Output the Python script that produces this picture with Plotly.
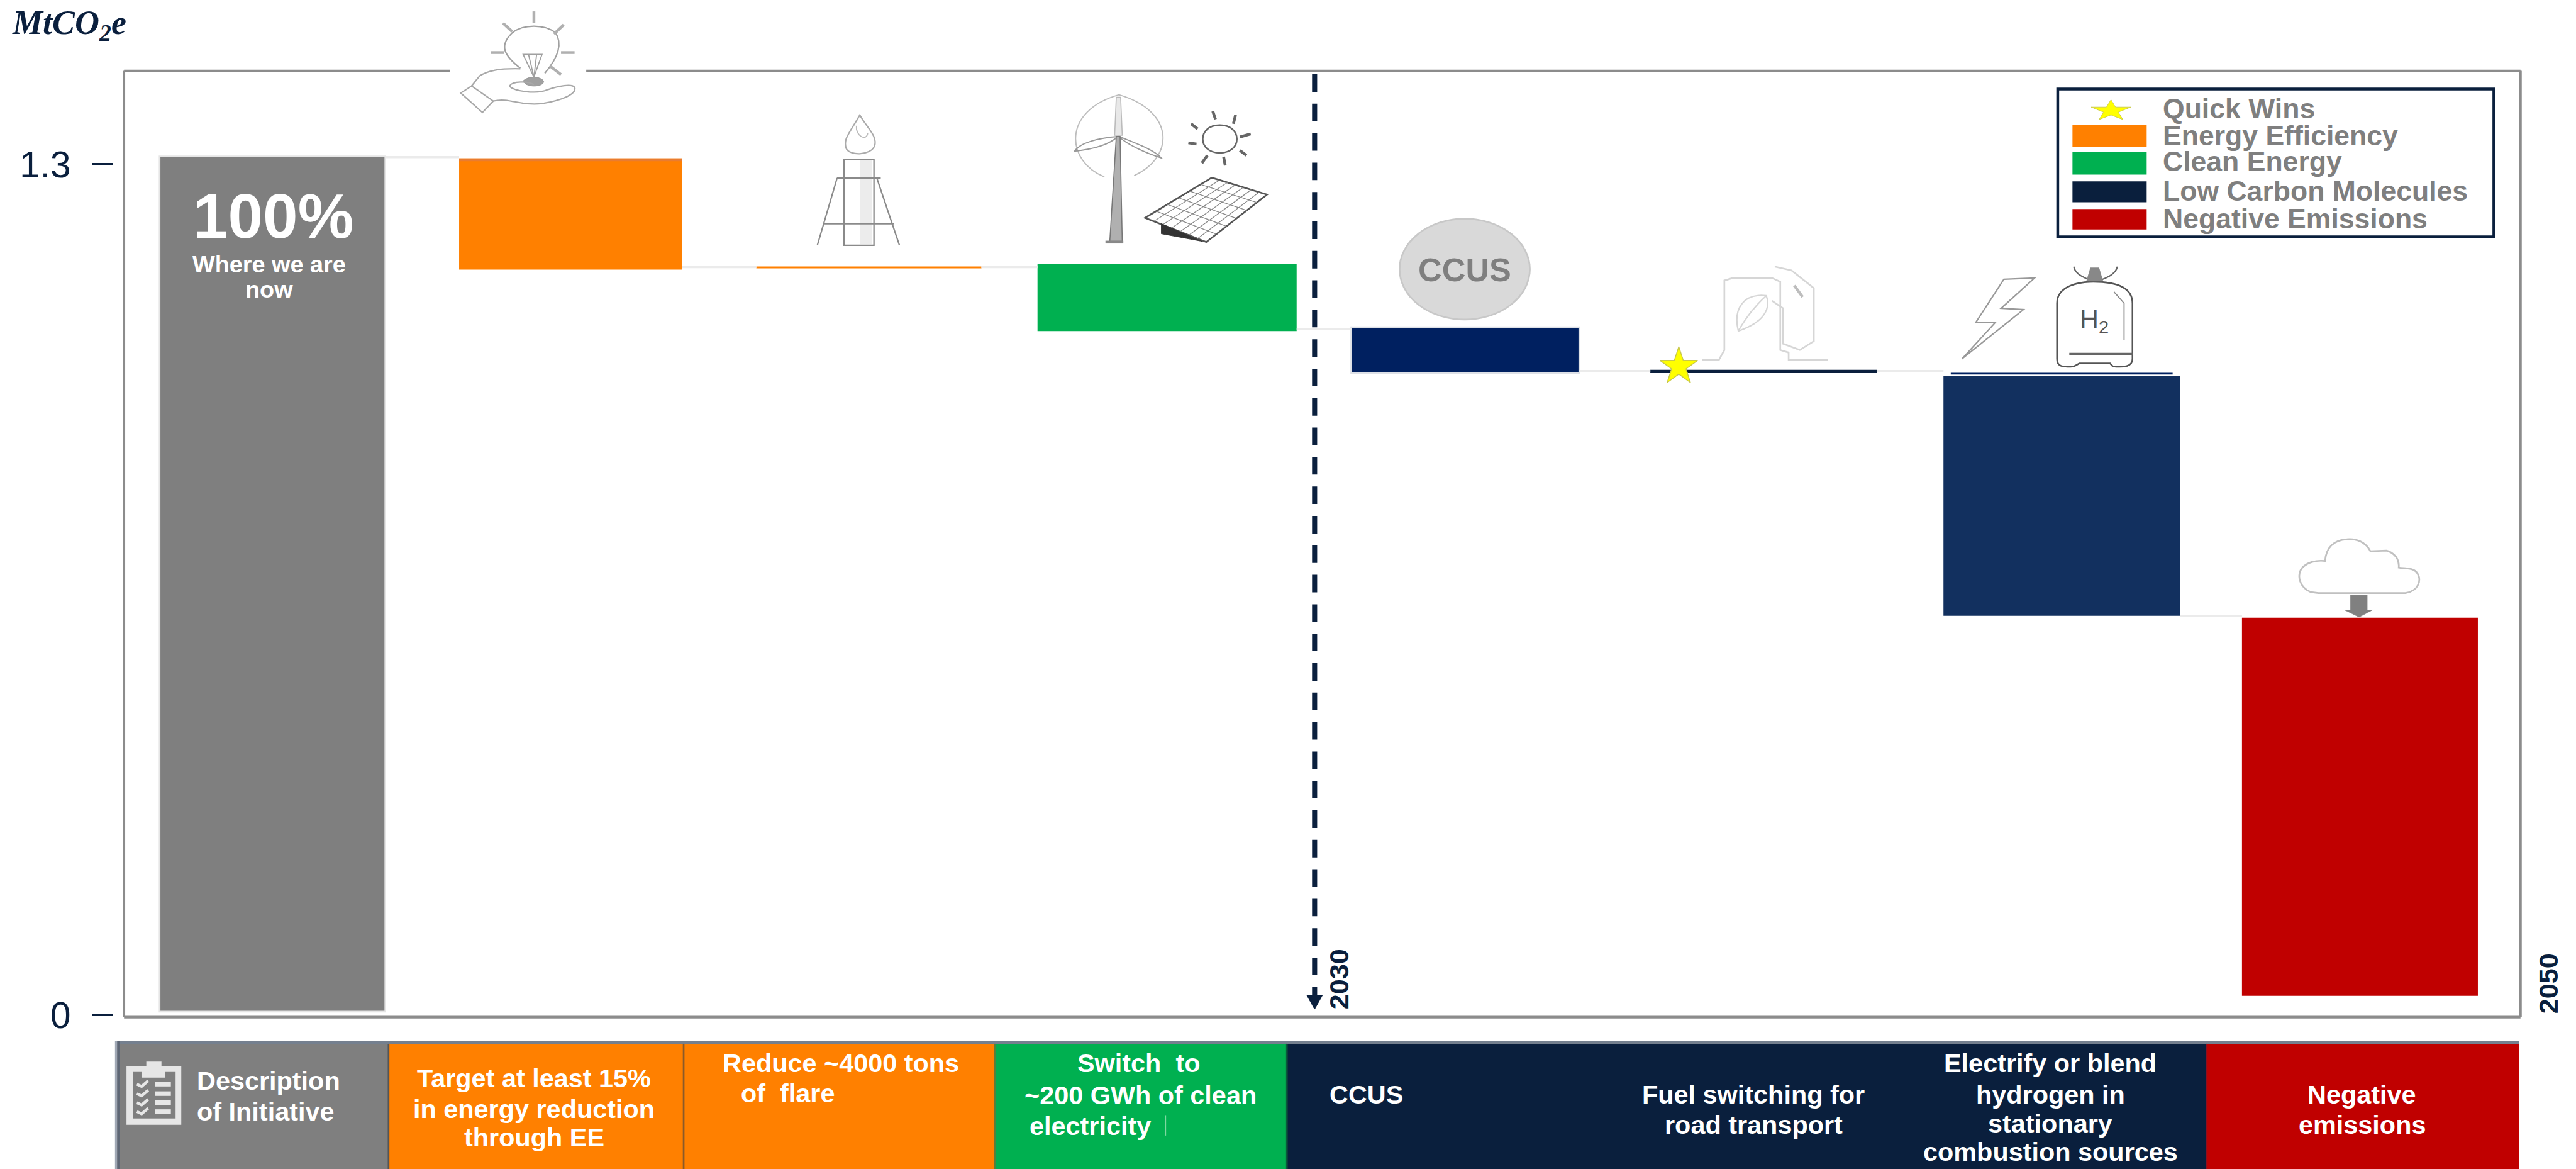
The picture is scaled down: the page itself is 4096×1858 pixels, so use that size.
import re
import plotly.graph_objects as go

# ---------- data ----------
categories = ["Where we are now", "Energy efficiency", "Flare reduction", "Clean electricity",
              "CCUS", "Fuel switching", "Electrify or blend hydrogen", "Negative emissions"]
bar_bottoms = [0.005, 1.139, 1.141, 1.045, 0.981, 0.981, 0.610, 0.029]
bar_tops = [1.312, 1.309, 1.144, 1.148, 1.051, 0.986, 0.976, 0.607]
connector_levels = [1.311, 1.143, 1.143, 1.048, 0.984, 0.984, 0.610]
hydrogen_rule_level = 0.980
orange_cap_level = 1.307
star_level = 0.991
y_ticks = [0, 1.3]
y_tick_labels = ["0", "1.3"]
legend_labels = ["Quick Wins", "Energy Efficiency", "Clean Energy", "Low Carbon Molecules", "Negative Emissions"]
year_labels = ["2030", "2050"]
strip_labels = [
    ["Description", "of Initiative"],
    ["Target at least 15%", "in energy reduction", "through EE"],
    ["Reduce ~4000 tons", "of  flare"],
    ["Switch  to", "~200 GWh of clean", "electricity"],
    ["CCUS"],
    ["Fuel switching for", "road transport"],
    ["Electrify or blend", "hydrogen in", "stationary", "combustion sources"],
    ["Negative", "emissions"],
]

# ---------- styling / layout (reference pixels, scaled by S) ----------
W, H, S = 4548, 2063, 0.9
GREY, ORANGE, GREEN, NAVY, DARK, BLUE, RED = "#7F7F7F", "#FF8000", "#00B050", "#002060", "#0A1F3D", "#12305F", "#C00000"
bar_colors = [GREY, ORANGE, ORANGE, GREEN, NAVY, DARK, BLUE, RED]
bar_edges = ["#E6E6E6", ORANGE, ORANGE, GREEN, "#DDE0E6", DARK, BLUE, RED]
bar_edge_w = [3, 0, 0, 0, 3, 0, 0, 0]
bar_w = [0.757, 0.748, 0.755, 0.869, 0.765, 0.759, 0.793, 0.791]
FL, FR, FT, FB = 219, 4450, 125, 1795
X0, DX = 481, 526.5
Y0, YS = 1791, 1.3 / 1501
SANS = "Liberation Sans"


def fx(v):
    return v / W


def fy(v):
    return 1 - v / H


def svg(path, ox=0.0, sx=1.0, oy=0.0, sy=1.0):
    idx = {"n": 0}

    def rep(m):
        v = float(m.group(0))
        i = idx["n"]
        idx["n"] += 1
        return f"{fx(ox + sx * v):.6f}" if i % 2 == 0 else f"{fy(oy + sy * v):.6f}"

    return re.sub(r"-?\d+(?:\.\d+)?", rep, path)


fig = go.Figure()
xs = list(range(len(categories)))
fig.add_trace(go.Bar(
    x=xs, y=[t - b for t, b in zip(bar_tops, bar_bottoms)], base=bar_bottoms, width=bar_w,
    hovertext=categories,
    marker=dict(color=bar_colors, line=dict(color=bar_edges, width=[v * S for v in bar_edge_w])),
    showlegend=False))

# darker cap on the first orange bar
fig.add_trace(go.Scatter(
    x=[1 - bar_w[1] / 2, 1 + bar_w[1] / 2], y=[orange_cap_level] * 2, mode="lines",
    line=dict(color="#E97C30", width=5 * S), showlegend=False, hoverinfo="skip"))
# connectors between successive bars
for i, lev in enumerate(connector_levels):
    fig.add_trace(go.Scatter(
        x=[i + bar_w[i] / 2, i + 1 - bar_w[i + 1] / 2], y=[lev, lev], mode="lines",
        line=dict(color="#EBEBEB", width=4 * S), showlegend=False, hoverinfo="skip"))
# dark rule on top of the hydrogen bar
fig.add_trace(go.Scatter(
    x=[6 - 0.372, 6 + 0.372], y=[hydrogen_rule_level] * 2, mode="lines",
    line=dict(color=NAVY, width=3 * S), showlegend=False, hoverinfo="skip"))
# quick-win star
fig.add_trace(go.Scatter(
    x=[5 - 0.284], y=[star_level], mode="markers", showlegend=False, hoverinfo="skip",
    marker=dict(symbol="star", size=50 * S, color="#FFFF00", line=dict(color="#C9C94A", width=1.5))))

shapes, annos = [], []


def line_shape(x0, y0, x1, y1, color, width, layer="above"):
    shapes.append(dict(type="line", xref="paper", yref="paper", x0=fx(x0), y0=fy(y0), x1=fx(x1), y1=fy(y1),
                       line=dict(color=color, width=width * S), layer=layer))


def rect(x0, y0, x1, y1, fill, line=None, lw=0, layer="above"):
    shapes.append(dict(type="rect", xref="paper", yref="paper", x0=fx(x0), y0=fy(y0), x1=fx(x1), y1=fy(y1),
                       fillcolor=fill, line=dict(color=line or fill, width=lw * S), layer=layer))


def path(d, color="#A6A6A6", width=2.5, fill=None, z=None, layer="above"):
    ox, sx, oy, sy = z or (0, 1, 0, 1)
    s = dict(type="path", xref="paper", yref="paper", path=svg(d, ox, sx, oy, sy),
             line=dict(color=color, width=width * S), layer=layer)
    if fill:
        s["fillcolor"] = fill
    shapes.append(s)


def text(t, x, y, size, color="white", anchor="center", bold=True, family=SANS, angle=0):
    annos.append(dict(text=f"<b>{t}</b>" if bold else t, xref="paper", yref="paper", x=fx(x), y=fy(y),
                      xanchor=anchor, yanchor="middle", showarrow=False, textangle=angle,
                      font=dict(family=family, size=size * S, color=color)))


# frame with a gap for the bulb icon
FC = "#8C8C8C"
line_shape(FL, FT, 794, FT, FC, 4, "below")
line_shape(1035, FT, FR, FT, FC, 4, "below")
line_shape(FL, FT, FL, FB, FC, 4, "below")
line_shape(FR, FT, FR, FB, FC, 4.5, "below")
line_shape(FL, FB, FR, FB, FC, 4.5, "below")

# 2030 divider
line_shape(2321, 131, 2321, 1760, DARK, 9)
shapes[-1]["line"]["dash"] = f"{31 * S}px,{21 * S}px"
path("M2307 1756 L2335 1756 L2321 1781 Z", color=DARK, width=1, fill=DARK)
text(year_labels[0], 2364, 1728, 48, DARK, angle=-90)
text(year_labels[1], 4500, 1736, 48, DARK, angle=-90)

# units
annos.append(dict(text="<b><i>MtCO<sub>2</sub>e</i></b>", xref="paper", yref="paper", x=fx(19), y=fy(44),
                  xanchor="left", yanchor="middle", showarrow=False,
                  font=dict(family="Liberation Serif", size=60 * S, color=DARK)))

# start-bar text
text("100%", 483, 381, 111)
text("Where we are", 475, 466, 42)
text("now", 475, 511, 42)

# ---- icons ----
Z1 = (0, 0.957, 0, 0.446)
Z2 = (1500, 0.957, 0, 0.446)
Z3 = (3000, 0.987, 0, 0.446)
Z6 = (3950, 1 / 3, 900, 1 / 3)
ZC = (190, 1 / 3, 1830, 1 / 3)

# bulb in hand
path("M960 270 C930 220 920 180 945 130 C965 95 1005 95 1025 130 C1040 180 1025 240 1005 290", "#A0A0A0", 2.5, z=Z1)
path("M965 215 L1000 215 L985 305 Z M975 215 L985 305 M990 215 L985 305", "#A0A0A0", 2, z=Z1)
for d in ["M985 45 L985 90", "M928 92 L945 125", "M1040 98 L1022 135", "M905 208 L930 208",
          "M1035 208 L1060 208", "M1015 262 L1035 295"]:
    path(d, "#B0B0B0", 5, z=Z1)
path("M965 320 C975 300 995 300 1003 320 C1005 345 970 350 965 320 Z", "#909090", 1, "#A0A0A0", z=Z1)
path("M960 272 C920 270 900 280 885 300 L870 340 L850 368 L890 445 L910 400 C940 385 960 420 1000 410 "
     "C1040 395 1065 370 1060 345 C1055 330 1030 340 1010 355 C990 375 945 360 940 340 C945 320 975 320 985 335",
     "#A8A8A8", 2.5, z=Z1)
path("M870 340 L910 400", "#A8A8A8", 2.5, z=Z1)

# flare stack
path("M1518 203 C1500 235 1488 245 1494 262 C1500 275 1536 275 1544 258 C1550 240 1530 225 1518 203 Z", "#AAAAAA", 2.5)
path("M1512 222 C1510 240 1530 250 1532 235", "#BBBBBB", 2)
rect(1518, 283, 1540, 431, "#ECECEC")
path("M1490 281 L1543 281 L1543 433 L1490 433 Z", "#8A8A8A", 2.5)
path("M1443 433 L1478 314 M1548 314 L1588 433 M1478 314 L1555 314 M1455 395 L1578 395", "#8A8A8A", 2.5)

# wind turbine
path("M470 700 C400 640 390 440 497 375 C600 440 600 620 525 695", "#BDBDBD", 2.2, z=Z2)
path("M492 385 L500 385 L503 535 L489 535 Z", "#BBBBBB", 1.8, "#E8E8E8", z=Z2)
path("M495 540 C460 545 425 565 415 598 C450 590 480 570 495 540 Z", "#999999", 2.2, z=Z2)
path("M497 540 C520 560 560 590 575 625 C545 605 510 570 497 540 Z", "#999999", 2.2, z=Z2)
path("M492 540 L499 540 L503 955 L480 955 Z", "#777777", 1.8, "#B0B0B0", z=Z2)
path("M472 958 L505 958", "#888888", 5, z=Z2)

# sun
path("M683 495 C725 495 725 605 683 605 C641 605 641 495 683 495 Z", "#666666", 2.8, z=Z2)
for d in ["M670 440 L675 472", "M712 455 L708 490", "M630 490 L642 510", "M740 530 L720 542", "M625 565 L640 570",
          "M720 595 L732 615", "M690 620 L693 655", "M660 615 L650 645"]:
    path(d, "#666666", 5, z=Z2)

# solar panel (grid interpolated across the panel outline)
A, B, C, D = (668, 703), (770, 770), (658, 958), (545, 862)
path(f"M{A[0]} {A[1]} L{B[0]} {B[1]} L{C[0]} {C[1]} L{D[0]} {D[1]} Z", "#555555", 3, z=Z2)
grid = []
for k in range(1, 6):
    t = k / 6
    grid.append(f"M{A[0] + (D[0] - A[0]) * t:.1f} {A[1] + (D[1] - A[1]) * t:.1f} "
                f"L{B[0] + (C[0] - B[0]) * t:.1f} {B[1] + (C[1] - B[1]) * t:.1f}")
for k in range(1, 7):
    t = k / 7
    grid.append(f"M{A[0] + (B[0] - A[0]) * t:.1f} {A[1] + (B[1] - A[1]) * t:.1f} "
                f"L{D[0] + (C[0] - D[0]) * t:.1f} {D[1] + (C[1] - D[1]) * t:.1f}")
path(" ".join(grid), "#888888", 1.5, z=Z2)
path("M575 885 L575 925 L650 955 Z", "#333333", 1, "#333333", z=Z2)

# CCUS bubble
shapes.append(dict(type="circle", xref="paper", yref="paper", x0=fx(2471), x1=fx(2701), y0=fy(386), y1=fy(564),
                   fillcolor="#D9D9D9", line=dict(color="#C8C8C8", width=3 * S), layer="above"))
text("CCUS", 2586, 476, 58, "#7F7F7F")

# fuel pump with leaf
PUMP = "#D6D6D6"
path("M5 1425 L35 1425 L45 1385 L45 1110 L60 1100 L130 1100 L145 1115 L145 1385 L160 1395 L160 1425 L230 1425", PUMP, 3, z=Z3)
path("M135 1055 L165 1070 L205 1140 L205 1350 L180 1385 L150 1360 L150 1220 L130 1190", PUMP, 3, z=Z3)
path("M70 1310 C60 1220 80 1160 120 1170 C130 1230 110 1280 70 1310 Z M70 1310 C85 1250 100 1210 120 1170", PUMP, 2.5, z=Z3)
path("M170 1130 L185 1175", "#BDBDBD", 5, z=Z3)

# lightning + H2 cylinder
path("M600 1100 L545 1105 L495 1275 L530 1275 L470 1420 L580 1225 L540 1220 Z", "#999999", 2.5, z=Z3)
path("M640 1200 C640 1130 680 1115 705 1115 C740 1115 775 1130 775 1200 L775 1420 C775 1450 760 1455 740 1450 "
     "L735 1438 L680 1438 L670 1450 C650 1455 640 1450 640 1420 Z", "#555555", 2.8, z=Z3)
path("M670 1055 C672 1085 690 1100 700 1110 M748 1055 C745 1085 730 1100 715 1110", "#666666", 2.5, z=Z3)
path("M700 1060 L715 1060 L722 1112 L693 1112 Z", "#888888", 1, "#888888", z=Z3)
path("M662 1400 L775 1400", "#666666", 3.5, z=Z3)
path("M742 1155 L760 1200 L760 1345", "#888888", 2, z=Z3)
annos.append(dict(text="H<sub>2</sub>", xref="paper", yref="paper", x=fx(3698), y=fy(566), xanchor="center",
                  yanchor="middle", showarrow=False, font=dict(family=SANS, size=46 * S, color="#555555")))

# cloud with down arrow
path("M430 440 L890 440 C960 430 980 370 950 330 C930 305 880 310 855 305 C860 260 830 225 790 215 L705 218 "
     "C680 170 630 150 580 155 C510 160 470 200 465 270 C420 265 370 275 340 310 C315 350 330 410 390 435 Z",
     "#C0C0C0", 3, z=Z6)
path("M600 450 L688 450 L688 530 L715 530 L645 567 L570 530 L600 530 Z", "#8C8C8C", 1, "#808080", z=Z6)

# ---- legend ----
rect(3633, 157, 4403, 418, "white", DARK, 5)
legend_swatches = [None, ORANGE, GREEN, DARK, RED]
swatch_y = [None, (220, 259), (268, 308), (320, 357), (369, 405)]
text_y = [192, 239, 285, 337, 386]
for lab, col, sy_, ty in zip(legend_labels, legend_swatches, swatch_y, text_y):
    if col:
        rect(3659, sy_[0], 3790, sy_[1], col)
    text(lab, 3816, ty, 49.5, "#7F7F7F", "left")
path("M3727 176 L3735 189 L3762 189 L3740 198 L3748 211 L3727 203 L3706 211 L3714 198 L3692 189 L3719 189 Z",
     "#C9C94A", 1, "#FFFF00")

# ---- initiative strip ----
cell_x = [205, 686, 1207, 1756, 2272, 3896, 4448]
cell_col = [GREY, ORANGE, ORANGE, GREEN, DARK, RED]
for i, c in enumerate(cell_col):
    rect(cell_x[i], 1837, cell_x[i + 1], H + 2, c)
rect(205, 1837, 4448, 1842, "#75808F")
rect(203, 1837, 207, H + 2, "#A0A8B5")
rect(207, 1837, 212, H + 2, "#5D6675")
for xv, col in zip(cell_x[1:5], ["#555555", "#8A5A2A", "#5F7A3A", "#0A5A3A"]):
    line_shape(xv, 1842, xv, H + 2, col, 3)
line_shape(3896, 1842, 3896, H + 2, "#8E1020", 3)

label_pos = [
    [(345, 1907, "left"), (345, 1962, "left")],
    [(943, 1903, "center"), (943, 1958, "center"), (943, 2007, "center")],
    [(1485, 1877, "center"), (1391, 1930, "center")],
    [(2010, 1877, "center"), (2014, 1933, "center"), (1815, 1987, "left")],
    [(2345, 1932, "left")],
    [(3096, 1932, "center"), (3096, 1985, "center")],
    [(3620, 1877, "center"), (3620, 1932, "center"), (3620, 1983, "center"), (3620, 2033, "center")],
    [(4170, 1932, "center"), (4170, 1985, "center")],
]
for lines, poss in zip(strip_labels, label_pos):
    for t, (x, y, a) in zip(lines, poss):
        text(t, x, y, 46, "white", a)
line_shape(2058, 1968, 2058, 2004, "#7FD8A0", 1.5)

# checklist icon
IC = "#E6E6E6"
path("M100 155 L390 155 L390 465 L100 465 Z M135 185 L135 432 L360 432 L360 185 Z", IC, 0.1, IC, z=ZC)
path("M180 215 L180 155 L205 155 L205 130 L285 130 L285 155 L305 155 L305 215 Z", IC, 0.1, IC, z=ZC)
for y in [250, 300, 348, 395]:
    path(f"M155 {y} L180 {y + 12} L215 {y - 18}", IC, 5, z=ZC)
    path(f"M252 {y} L335 {y}", IC, 8, z=ZC)

fig.update_layout(
    width=4096, height=1858, autosize=False,
    margin=dict(l=0, r=0, t=0, b=0, pad=0, autoexpand=False),
    paper_bgcolor="white", plot_bgcolor="white",
    showlegend=False, barmode="overlay",
    xaxis=dict(domain=[fx(FL), fx(FR)], range=[(FL - X0) / DX, (FR - X0) / DX],
               visible=False, showgrid=False, zeroline=False, automargin=False),
    yaxis=dict(domain=[fy(FB), fy(FT)], range=[(Y0 - FB) * YS, (Y0 - FT) * YS],
               anchor="free", position=fx(199), side="left", automargin=False,
               tickmode="array", tickvals=y_ticks, ticktext=y_tick_labels,
               ticks="outside", ticklen=33, tickwidth=4, tickcolor=DARK,
               ticklabelstandoff=22,
               tickfont=dict(family=SANS, size=65 * S, color=DARK),
               showline=False, showgrid=False, zeroline=False),
    shapes=shapes, annotations=annos,
)

fig.write_html("out.html", config=dict(displayModeBar=False),
               post_script="document.body.style.margin='0';document.documentElement.style.overflow='hidden';")
